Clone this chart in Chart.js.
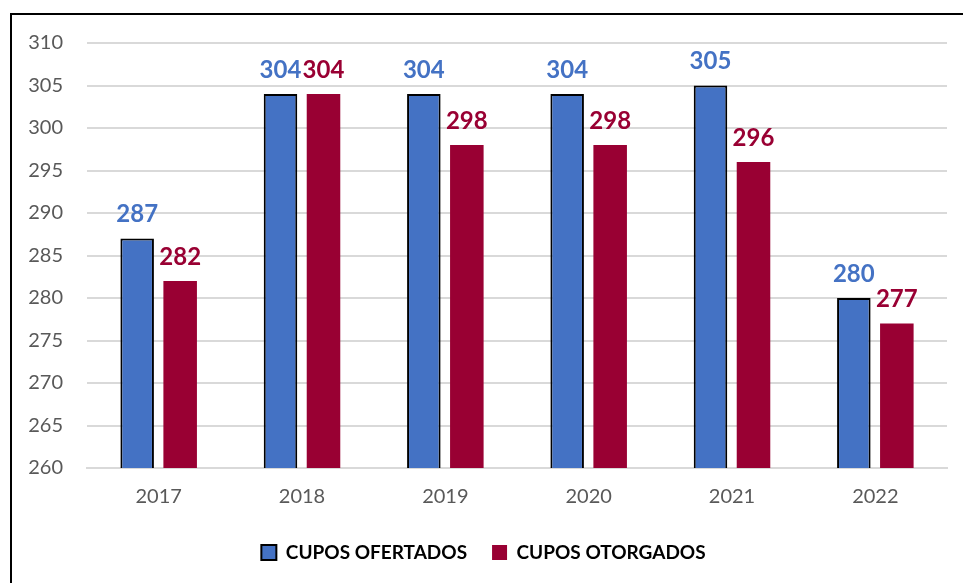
<!DOCTYPE html>
<html lang="es">
<head>
    <meta charset="UTF-8">
    <title>Cupos ofertados y otorgados</title>
    <script src="https://cdn.jsdelivr.net/npm/chart.js"></script>
    <style>
        html, body { margin: 0; padding: 0; background: #fff; overflow: hidden; }
        .frame {
            position: absolute;
            left: 10px;
            top: 13px;
            width: 970px;
            height: 600px;
            border: 2px solid #000;
            box-sizing: border-box;
        }
        .chart-box {
            position: absolute;
            left: 0;
            top: 0;
            width: 963px;
            height: 583px;
        }
    </style>
</head>
<body>
    <div class="frame"></div>
    <div class="chart-box">
        <canvas id="cuposChart"></canvas>
    </div>

    <script>
        // Data
        const years = ['2017', '2018', '2019', '2020', '2021', '2022'];
        const ofertados = [287, 304, 304, 304, 305, 280];
        const otorgados = [282, 304, 298, 298, 296, 277];
        const yTicks = [260, 265, 270, 275, 280, 285, 290, 295, 300, 305, 310];

        const BLUE = '#4472C4';
        const RED = '#990033';
        const FONT = 'Lato, "Open Sans", sans-serif';

        // Value labels above each bar, placed from the bar elements
        const barLabels = {
            id: 'barLabels',
            afterDatasetsDraw(chart) {
                const ctx = chart.ctx;
                ctx.save();
                ctx.font = 'bold 24px ' + FONT;
                ctx.textAlign = 'center';
                ctx.textBaseline = 'bottom';
                chart.data.datasets.forEach((ds, i) => {
                    chart.getDatasetMeta(i).data.forEach((bar, j) => {
                        ctx.fillStyle = ds.labelColor;
                        ctx.fillText(ds.data[j], bar.x, bar.y - 12);
                    });
                });
                ctx.restore();
            }
        };

        const ctx = document.getElementById('cuposChart').getContext('2d');
        new Chart(ctx, {
            type: 'bar',
            data: {
                labels: years,
                datasets: [{
                    label: 'CUPOS OFERTADOS',
                    data: ofertados,
                    backgroundColor: BLUE,
                    borderColor: '#000',
                    borderWidth: 2,
                    labelColor: BLUE,
                    categoryPercentage: 0.6,
                    barPercentage: 0.78
                }, {
                    label: 'CUPOS OTORGADOS',
                    data: otorgados,
                    backgroundColor: RED,
                    borderColor: RED,
                    borderWidth: 0,
                    labelColor: RED,
                    categoryPercentage: 0.6,
                    barPercentage: 0.78
                }]
            },
            options: {
                responsive: true,
                maintainAspectRatio: false,
                animation: false,
                layout: {
                    padding: { left: 20, right: 16, top: 43, bottom: 11 }
                },
                plugins: {
                    legend: {
                        position: 'bottom',
                        labels: {
                            color: '#000',
                            font: { family: FONT, size: 19, weight: 'bold' },
                            boxWidth: 15,
                            boxHeight: 15,
                            padding: 25
                        }
                    },
                    tooltip: { enabled: false }
                },
                scales: {
                    x: {
                        grid: { display: false },
                        border: { color: '#d9d9d9', width: 2 },
                        ticks: {
                            color: '#595959',
                            font: { family: FONT, size: 20 },
                            padding: 9
                        }
                    },
                    y: {
                        min: 260,
                        max: 310,
                        afterBuildTicks(scale) {
                            scale.ticks = yTicks.map(v => ({ value: v }));
                        },
                        afterFit(scale) {
                            scale.width = 67;
                        },
                        grid: {
                            color: '#d9d9d9',
                            lineWidth: 2,
                            drawTicks: false
                        },
                        border: { display: false },
                        ticks: {
                            color: '#595959',
                            font: { family: FONT, size: 20 },
                            padding: 24
                        }
                    }
                }
            },
            plugins: [barLabels]
        });
    </script>
</body>
</html>
